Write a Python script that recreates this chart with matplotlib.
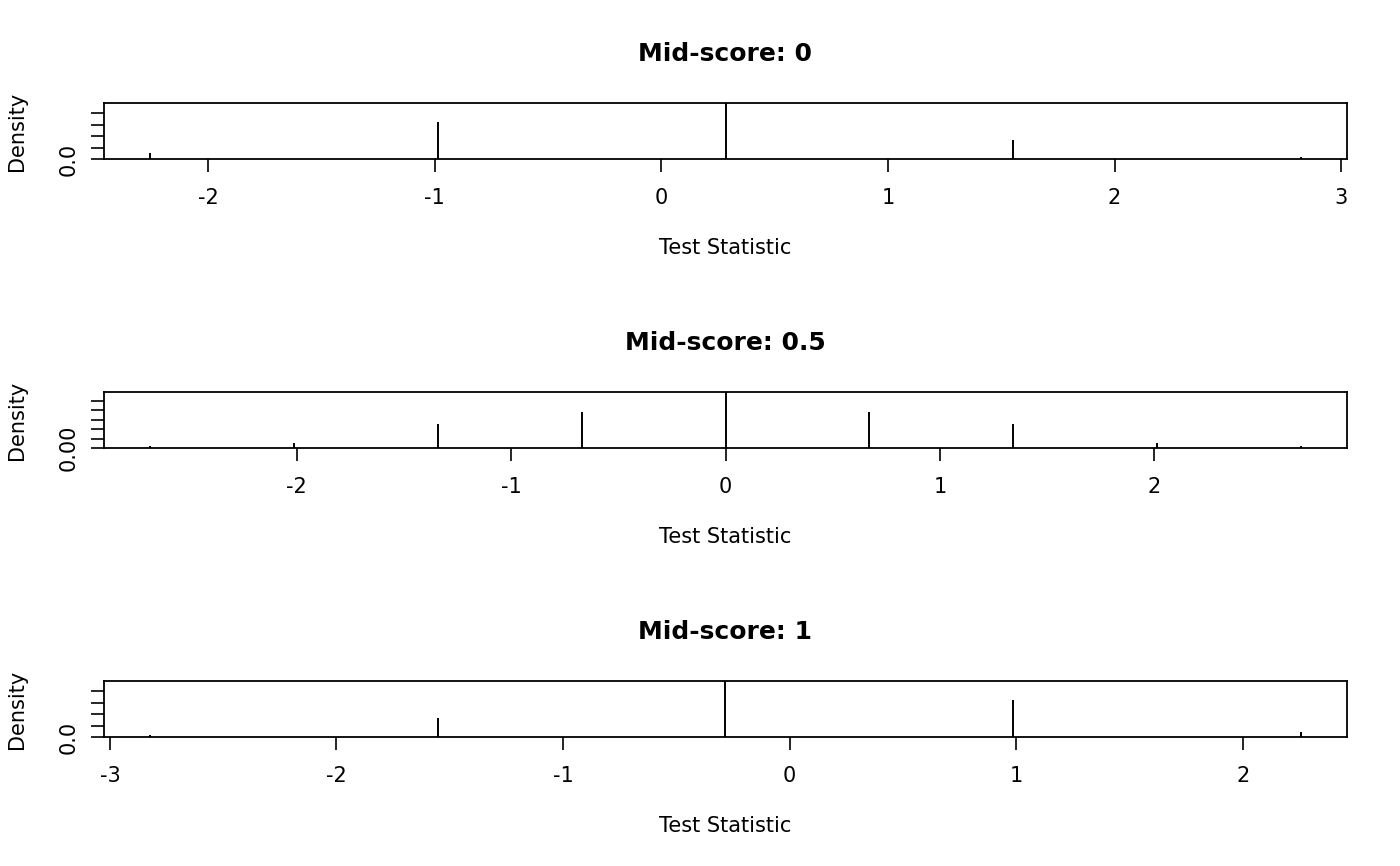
import matplotlib
matplotlib.use("Agg")
import matplotlib.pyplot as plt

# spike positions (test statistic) and densities
x_mid0 = [-2.257, -0.987, 0.283, 1.553, 2.823]
d_mid0 = [0.049, 0.325, 0.490, 0.168, 0.016]

x_mid05 = [-2.685, -2.014, -1.343, -0.671, 0.0, 0.671, 1.343, 2.014, 2.685]
d_mid05 = [0.012, 0.027, 0.125, 0.188, 0.296, 0.188, 0.125, 0.027, 0.012]

x_mid1 = [-2.823, -1.553, -0.283, 0.987, 2.257]
d_mid1 = [0.016, 0.165, 0.490, 0.325, 0.047]

titles = ["Mid-score: 0", "Mid-score: 0.5", "Mid-score: 1"]
xticks = [[-2, -1, 0, 1, 2, 3], [-2, -1, 0, 1, 2], [-3, -2, -1, 0, 1, 2]]
yticks = [[0, 0.1, 0.2, 0.3, 0.4], [0, 0.05, 0.10, 0.15, 0.20, 0.25], [0, 0.1, 0.2, 0.3, 0.4]]
ytick_first = ["0.0", "0.00", "0.0"]

panels = [(x_mid0, d_mid0), (x_mid05, d_mid05), (x_mid1, d_mid1)]

W, H = 1400, 866
fig = plt.figure(figsize=(W / 100, H / 100), dpi=100)
plt.rcParams["font.family"] = "DejaVu Sans"

fs = 15
left, right = 104, 1347
tops = [103, 392, 681]
box_h = 56

for i, (xs, ds) in enumerate(panels):
    top = tops[i]
    ax = fig.add_axes([left / W, 1 - (top + box_h) / H, (right - left) / W, box_h / H])
    ax.vlines(xs, 0, ds, colors="black", lw=1.4, zorder=3)

    # R style: 4% padding on x, none on y
    lo, hi = min(xs), max(xs)
    r = hi - lo
    ax.set_xlim(lo - 0.04 * r, hi + 0.04 * r)
    ax.set_ylim(0, max(ds))

    ax.set_xticks(xticks[i])
    ax.set_xticklabels([str(t) for t in xticks[i]], fontsize=fs)
    ax.set_yticks(yticks[i])
    ax.set_yticklabels([ytick_first[i]] + [""] * (len(yticks[i]) - 1),
                       fontsize=fs, rotation=90, va="center")
    ax.tick_params(axis="x", direction="out", length=9.4, width=1.2, pad=11.5)
    ax.tick_params(axis="y", direction="out", length=9.4, width=1.2, pad=9)
    for sp in ax.spines.values():
        sp.set_linewidth(1.3)

    ax.set_title(titles[i], fontsize=fs * 1.2, fontweight="bold", pad=30)
    ax.set_xlabel("Test Statistic", fontsize=fs, va="center")
    ax.xaxis.set_label_coords(0.5, -89 / box_h)
    ax.set_ylabel("Density", fontsize=fs, va="center")
    ax.yaxis.set_label_coords(-87 / (right - left), 0.5)

fig.savefig("out.png", dpi=100)
